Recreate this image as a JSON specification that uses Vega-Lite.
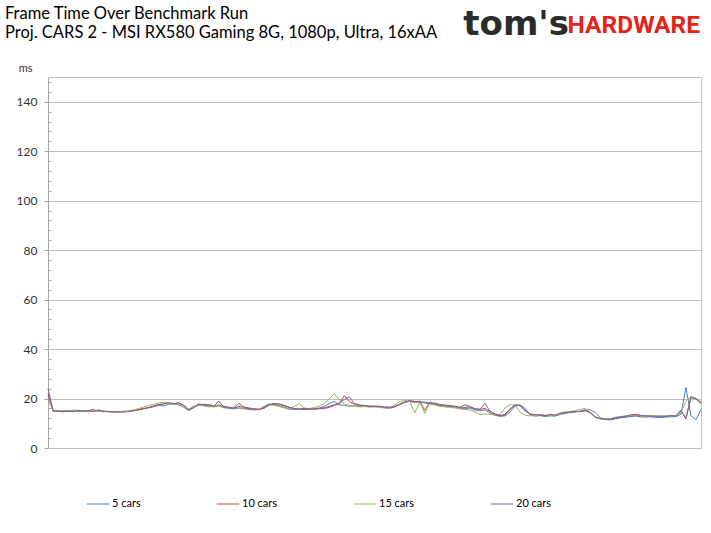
{
  "$schema": "https://vega.github.io/schema/vega-lite/v6.json",
  "width": 653,
  "height": 371,
  "autosize": "none",
  "padding": {"left": 48, "top": 77, "right": 10, "bottom": 85},
  "background": "white",
  "config": {
    "view": {"stroke": "#BFBFBF"}
  },
  "layer": [
    {
      "data": {"values": [
        {"x":0,"5 cars":21,"10 cars":22,"15 cars":20,"20 cars":24},
        {"x":1,"5 cars":15.2,"10 cars":14.8,"15 cars":15.0,"20 cars":15.3},
        {"x":2,"5 cars":14.8,"10 cars":15.0,"15 cars":14.7,"20 cars":14.9},
        {"x":3,"5 cars":15.0,"10 cars":14.6,"15 cars":15.3,"20 cars":14.8},
        {"x":4,"5 cars":14.7,"10 cars":15.1,"15 cars":14.9,"20 cars":15.0},
        {"x":5,"5 cars":15.1,"10 cars":14.8,"15 cars":15.4,"20 cars":14.7},
        {"x":6,"5 cars":14.8,"10 cars":15.3,"15 cars":14.9,"20 cars":15.1},
        {"x":7,"5 cars":15.0,"10 cars":14.7,"15 cars":15.1,"20 cars":14.9},
        {"x":8,"5 cars":14.6,"10 cars":15.0,"15 cars":14.8,"20 cars":15.2},
        {"x":9,"5 cars":14.9,"10 cars":15.6,"15 cars":14.7,"20 cars":14.8},
        {"x":10,"5 cars":15.3,"10 cars":14.8,"15 cars":15.0,"20 cars":15.4},
        {"x":11,"5 cars":14.7,"10 cars":15.0,"15 cars":14.6,"20 cars":14.9},
        {"x":12,"5 cars":14.8,"10 cars":14.6,"15 cars":14.9,"20 cars":14.7},
        {"x":13,"5 cars":14.5,"10 cars":14.8,"15 cars":14.4,"20 cars":14.6},
        {"x":14,"5 cars":14.7,"10 cars":14.5,"15 cars":14.8,"20 cars":14.6},
        {"x":15,"5 cars":14.6,"10 cars":14.9,"15 cars":14.7,"20 cars":14.5},
        {"x":16,"5 cars":14.9,"10 cars":14.7,"15 cars":15.0,"20 cars":14.8},
        {"x":17,"5 cars":15.2,"10 cars":15.0,"15 cars":15.4,"20 cars":15.1},
        {"x":18,"5 cars":15.4,"10 cars":15.6,"15 cars":15.9,"20 cars":15.3},
        {"x":19,"5 cars":15.8,"10 cars":16.0,"15 cars":16.6,"20 cars":15.9},
        {"x":20,"5 cars":16.4,"10 cars":16.2,"15 cars":17.2,"20 cars":16.3},
        {"x":21,"5 cars":16.8,"10 cars":17.0,"15 cars":17.6,"20 cars":16.7},
        {"x":22,"5 cars":17.2,"10 cars":17.6,"15 cars":18.2,"20 cars":17.4},
        {"x":23,"5 cars":17.0,"10 cars":17.8,"15 cars":18.5,"20 cars":17.8},
        {"x":24,"5 cars":17.6,"10 cars":18.2,"15 cars":18.0,"20 cars":18.4},
        {"x":25,"5 cars":17.9,"10 cars":18.0,"15 cars":17.6,"20 cars":17.8},
        {"x":26,"5 cars":17.4,"10 cars":18.1,"15 cars":17.8,"20 cars":18.3},
        {"x":27,"5 cars":16.6,"10 cars":17.2,"15 cars":16.5,"20 cars":17.4},
        {"x":28,"5 cars":15.1,"10 cars":15.6,"15 cars":15.3,"20 cars":15.4},
        {"x":29,"5 cars":16.2,"10 cars":16.8,"15 cars":16.6,"20 cars":16.4},
        {"x":30,"5 cars":17.6,"10 cars":17.4,"15 cars":17.2,"20 cars":17.8},
        {"x":31,"5 cars":17.3,"10 cars":17.7,"15 cars":17.0,"20 cars":17.5},
        {"x":32,"5 cars":17.0,"10 cars":17.5,"15 cars":16.6,"20 cars":17.4},
        {"x":33,"5 cars":16.6,"10 cars":17.0,"15 cars":16.9,"20 cars":16.8},
        {"x":34,"5 cars":17.2,"10 cars":17.4,"15 cars":17.0,"20 cars":19.0},
        {"x":35,"5 cars":16.4,"10 cars":16.8,"15 cars":16.2,"20 cars":16.6},
        {"x":36,"5 cars":16.0,"10 cars":16.5,"15 cars":16.2,"20 cars":16.4},
        {"x":37,"5 cars":15.8,"10 cars":16.3,"15 cars":16.5,"20 cars":16.1},
        {"x":38,"5 cars":16.2,"10 cars":18.0,"15 cars":16.0,"20 cars":16.8},
        {"x":39,"5 cars":16.0,"10 cars":16.6,"15 cars":15.8,"20 cars":16.4},
        {"x":40,"5 cars":15.6,"10 cars":16.2,"15 cars":16.0,"20 cars":15.9},
        {"x":41,"5 cars":15.4,"10 cars":15.9,"15 cars":15.8,"20 cars":15.7},
        {"x":42,"5 cars":15.6,"10 cars":15.7,"15 cars":15.5,"20 cars":15.5},
        {"x":43,"5 cars":16.8,"10 cars":16.0,"15 cars":16.7,"20 cars":16.3},
        {"x":44,"5 cars":17.8,"10 cars":17.3,"15 cars":17.6,"20 cars":17.4},
        {"x":45,"5 cars":17.6,"10 cars":17.9,"15 cars":17.2,"20 cars":18.0},
        {"x":46,"5 cars":17.0,"10 cars":17.8,"15 cars":16.8,"20 cars":17.6},
        {"x":47,"5 cars":16.5,"10 cars":17.3,"15 cars":16.2,"20 cars":17.0},
        {"x":48,"5 cars":15.8,"10 cars":16.5,"15 cars":15.6,"20 cars":16.4},
        {"x":49,"5 cars":15.6,"10 cars":16.0,"15 cars":16.8,"20 cars":15.9},
        {"x":50,"5 cars":15.8,"10 cars":15.7,"15 cars":18.0,"20 cars":15.6},
        {"x":51,"5 cars":15.5,"10 cars":15.9,"15 cars":16.2,"20 cars":16.0},
        {"x":52,"5 cars":15.6,"10 cars":15.6,"15 cars":15.9,"20 cars":15.8},
        {"x":53,"5 cars":15.9,"10 cars":15.7,"15 cars":16.4,"20 cars":15.8},
        {"x":54,"5 cars":16.2,"10 cars":15.8,"15 cars":17.0,"20 cars":16.0},
        {"x":55,"5 cars":16.8,"10 cars":16.0,"15 cars":18.0,"20 cars":16.3},
        {"x":56,"5 cars":18.0,"10 cars":16.4,"15 cars":19.8,"20 cars":16.8},
        {"x":57,"5 cars":18.8,"10 cars":17.2,"15 cars":22.0,"20 cars":17.6},
        {"x":58,"5 cars":17.5,"10 cars":17.8,"15 cars":19.5,"20 cars":18.2},
        {"x":59,"5 cars":17.2,"10 cars":21.2,"15 cars":17.8,"20 cars":19.6},
        {"x":60,"5 cars":16.9,"10 cars":18.8,"15 cars":17.2,"20 cars":20.6},
        {"x":61,"5 cars":17.0,"10 cars":17.6,"15 cars":16.8,"20 cars":18.0},
        {"x":62,"5 cars":16.8,"10 cars":17.2,"15 cars":16.6,"20 cars":17.4},
        {"x":63,"5 cars":17.1,"10 cars":16.9,"15 cars":16.8,"20 cars":17.2},
        {"x":64,"5 cars":16.7,"10 cars":17.0,"15 cars":16.5,"20 cars":16.8},
        {"x":65,"5 cars":16.9,"10 cars":16.7,"15 cars":16.6,"20 cars":17.0},
        {"x":66,"5 cars":16.5,"10 cars":16.9,"15 cars":16.4,"20 cars":16.8},
        {"x":67,"5 cars":16.3,"10 cars":16.6,"15 cars":16.2,"20 cars":16.5},
        {"x":68,"5 cars":16.0,"10 cars":16.5,"15 cars":16.1,"20 cars":16.4},
        {"x":69,"5 cars":16.6,"10 cars":16.8,"15 cars":17.4,"20 cars":16.6},
        {"x":70,"5 cars":17.8,"10 cars":17.6,"15 cars":18.8,"20 cars":17.5},
        {"x":71,"5 cars":18.6,"10 cars":18.4,"15 cars":19.2,"20 cars":18.6},
        {"x":72,"5 cars":18.8,"10 cars":19.0,"15 cars":18.9,"20 cars":19.2},
        {"x":73,"5 cars":18.6,"10 cars":18.5,"15 cars":14.2,"20 cars":18.9},
        {"x":74,"5 cars":18.8,"10 cars":19.0,"15 cars":18.6,"20 cars":18.4},
        {"x":75,"5 cars":18.2,"10 cars":15.2,"15 cars":14.0,"20 cars":18.6},
        {"x":76,"5 cars":17.8,"10 cars":18.6,"15 cars":18.2,"20 cars":18.0},
        {"x":77,"5 cars":17.6,"10 cars":17.8,"15 cars":17.4,"20 cars":18.2},
        {"x":78,"5 cars":17.2,"10 cars":17.5,"15 cars":16.8,"20 cars":17.6},
        {"x":79,"5 cars":16.9,"10 cars":17.2,"15 cars":16.6,"20 cars":17.4},
        {"x":80,"5 cars":16.7,"10 cars":17.0,"15 cars":16.4,"20 cars":17.1},
        {"x":81,"5 cars":16.5,"10 cars":16.8,"15 cars":16.2,"20 cars":16.9},
        {"x":82,"5 cars":16.0,"10 cars":16.4,"15 cars":15.8,"20 cars":16.5},
        {"x":83,"5 cars":15.9,"10 cars":17.5,"15 cars":15.6,"20 cars":16.4},
        {"x":84,"5 cars":16.2,"10 cars":16.8,"15 cars":15.4,"20 cars":16.6},
        {"x":85,"5 cars":15.4,"10 cars":15.9,"15 cars":14.6,"20 cars":15.8},
        {"x":86,"5 cars":15.0,"10 cars":15.6,"15 cars":13.5,"20 cars":15.7},
        {"x":87,"5 cars":15.4,"10 cars":16.0,"15 cars":13.8,"20 cars":18.0},
        {"x":88,"5 cars":14.2,"10 cars":14.8,"15 cars":13.6,"20 cars":14.9},
        {"x":89,"5 cars":13.2,"10 cars":13.6,"15 cars":13.4,"20 cars":13.8},
        {"x":90,"5 cars":12.8,"10 cars":13.0,"15 cars":13.6,"20 cars":13.2},
        {"x":91,"5 cars":13.0,"10 cars":13.4,"15 cars":16.2,"20 cars":13.6},
        {"x":92,"5 cars":14.6,"10 cars":15.6,"15 cars":17.6,"20 cars":15.8},
        {"x":93,"5 cars":17.0,"10 cars":17.4,"15 cars":17.2,"20 cars":17.6},
        {"x":94,"5 cars":17.4,"10 cars":17.2,"15 cars":14.4,"20 cars":17.0},
        {"x":95,"5 cars":16.0,"10 cars":15.2,"15 cars":13.2,"20 cars":15.0},
        {"x":96,"5 cars":13.4,"10 cars":13.6,"15 cars":13.0,"20 cars":13.8},
        {"x":97,"5 cars":12.9,"10 cars":13.3,"15 cars":13.1,"20 cars":13.4},
        {"x":98,"5 cars":13.1,"10 cars":13.5,"15 cars":13.2,"20 cars":13.3},
        {"x":99,"5 cars":12.7,"10 cars":13.2,"15 cars":13.0,"20 cars":13.1},
        {"x":100,"5 cars":13.0,"10 cars":13.4,"15 cars":13.3,"20 cars":13.6},
        {"x":101,"5 cars":12.9,"10 cars":13.3,"15 cars":13.1,"20 cars":13.2},
        {"x":102,"5 cars":13.6,"10 cars":14.0,"15 cars":14.2,"20 cars":14.1},
        {"x":103,"5 cars":14.0,"10 cars":14.4,"15 cars":14.6,"20 cars":14.2},
        {"x":104,"5 cars":14.4,"10 cars":14.6,"15 cars":14.8,"20 cars":14.5},
        {"x":105,"5 cars":14.6,"10 cars":14.8,"15 cars":15.2,"20 cars":14.7},
        {"x":106,"5 cars":14.9,"10 cars":14.7,"15 cars":15.6,"20 cars":14.8},
        {"x":107,"5 cars":15.5,"10 cars":15.0,"15 cars":16.0,"20 cars":15.2},
        {"x":108,"5 cars":15.4,"10 cars":14.2,"15 cars":14.0,"20 cars":14.4},
        {"x":109,"5 cars":14.2,"10 cars":12.4,"15 cars":12.2,"20 cars":12.6},
        {"x":110,"5 cars":12.2,"10 cars":11.8,"15 cars":11.7,"20 cars":11.9},
        {"x":111,"5 cars":11.5,"10 cars":11.7,"15 cars":11.8,"20 cars":11.6},
        {"x":112,"5 cars":11.4,"10 cars":11.6,"15 cars":11.9,"20 cars":11.7},
        {"x":113,"5 cars":11.8,"10 cars":12.2,"15 cars":12.4,"20 cars":12.3},
        {"x":114,"5 cars":12.2,"10 cars":12.5,"15 cars":12.7,"20 cars":12.6},
        {"x":115,"5 cars":12.4,"10 cars":12.9,"15 cars":13.0,"20 cars":12.8},
        {"x":116,"5 cars":12.7,"10 cars":13.0,"15 cars":13.2,"20 cars":13.4},
        {"x":117,"5 cars":12.9,"10 cars":13.3,"15 cars":13.5,"20 cars":13.6},
        {"x":118,"5 cars":12.6,"10 cars":13.0,"15 cars":13.1,"20 cars":13.2},
        {"x":119,"5 cars":12.5,"10 cars":12.9,"15 cars":12.8,"20 cars":13.0},
        {"x":120,"5 cars":12.6,"10 cars":13.0,"15 cars":13.1,"20 cars":12.9},
        {"x":121,"5 cars":12.4,"10 cars":12.9,"15 cars":13.0,"20 cars":12.8},
        {"x":122,"5 cars":12.3,"10 cars":12.8,"15 cars":12.7,"20 cars":12.9},
        {"x":123,"5 cars":12.5,"10 cars":12.9,"15 cars":13.0,"20 cars":12.8},
        {"x":124,"5 cars":12.6,"10 cars":13.0,"15 cars":12.9,"20 cars":13.1},
        {"x":125,"5 cars":12.7,"10 cars":13.1,"15 cars":13.2,"20 cars":13.0},
        {"x":126,"5 cars":13.6,"10 cars":15.0,"15 cars":14.2,"20 cars":15.2},
        {"x":127,"5 cars":24.5,"10 cars":12.0,"15 cars":19.0,"20 cars":11.8},
        {"x":128,"5 cars":13.0,"10 cars":20.6,"15 cars":20.8,"20 cars":20.4},
        {"x":129,"5 cars":11.4,"10 cars":20.0,"15 cars":20.2,"20 cars":19.8},
        {"x":130,"5 cars":15.6,"10 cars":18.2,"15 cars":18.6,"20 cars":18.0}
      ]},
      "transform": [{"fold": ["5 cars", "10 cars", "15 cars", "20 cars"], "as": ["series", "ms"]}],
      "mark": {"type": "line", "strokeWidth": 1, "interpolate": "linear"},
      "encoding": {
        "x": {
          "field": "x",
          "type": "quantitative",
          "scale": {"domain": [0, 130], "nice": false, "zero": false},
          "axis": null
        },
        "y": {
          "field": "ms",
          "type": "quantitative",
          "scale": {"domain": [0, 150], "nice": false},
          "axis": {
            "title": "ms",
            "titleAngle": 0,
            "titleAlign": "right",
            "titleBaseline": "alphabetic",
            "titleX": -16,
            "titleY": -6,
            "titleFont": "Lato",
            "titleFontSize": 11,
            "titleFontWeight": "normal",
            "titleColor": "#333333",
            "values": [0,4,8,12,16,20,24,28,32,36,40,44,48,52,56,60,64,68,72,76,80,84,88,92,96,100,104,108,112,116,120,124,128,132,136,140,144,148],
            "tickCount": 40,
            "labelExpr": "datum.value % 20 === 0 ? datum.label : ''",
            "labelOverlap": false,
            "labelFont": "Lato",
            "labelFontSize": 12,
            "labelColor": "#333333",
            "labelPadding": 7,
            "tickSize": {"condition": {"test": "datum.value % 20 === 0", "value": 4}, "value": -3},
            "tickColor": "#A6A6A6",
            "domainColor": "#A6A6A6",
            "grid": true,
            "gridColor": "#BFBFBF",
            "gridOpacity": {"condition": {"test": "datum.value % 20 === 0", "value": 1}, "value": 0}
          }
        },
        "color": {
          "field": "series",
          "type": "nominal",
          "sort": ["5 cars", "10 cars", "15 cars", "20 cars"],
          "scale": {
            "domain": ["5 cars", "10 cars", "15 cars", "20 cars"],
            "range": ["#4A7EBB", "#BE4B48", "#98B954", "#7D60A0"]
          },
          "legend": {
            "orient": "none",
            "legendX": 38,
            "legendY": 415,
            "direction": "horizontal",
            "columns": 4,
            "columnPadding": 73,
            "title": null,
            "symbolType": "stroke",
            "symbolSize": 500,
            "symbolStrokeWidth": 1,
            "labelFont": "Lato",
            "labelFontSize": 11,
            "labelColor": "#000000",
            "labelOffset": 2
          }
        }
      }
    },
    {
      "data": {"values": [{"line": "Frame Time Over Benchmark Run", "row": 0}, {"line": "Proj. CARS 2 - MSI RX580 Gaming 8G, 1080p, Ultra, 16xAA", "row": 1}]},
      "mark": {"type": "text", "align": "left", "baseline": "alphabetic", "dx": -43, "font": "Lato", "fontSize": 16.5, "color": "#000000"},
      "encoding": {
        "x": {"datum": 0, "type": "quantitative"},
        "y": {"datum": 150, "type": "quantitative"},
        "yOffset": {"field": "row", "type": "quantitative", "scale": {"domain": [0, 1], "range": [-58, -39]}, "legend": null},
        "text": {"field": "line"}
      }
    },
    {
      "data": {"values": [{"word": "HARDWARE"}]},
      "mark": {"type": "text", "align": "right", "baseline": "alphabetic", "dx": -1, "dy": -44, "font": "Roboto", "fontSize": 24.5, "fontWeight": "bold", "color": "#E2231A"},
      "encoding": {
        "x": {"datum": 130, "type": "quantitative"},
        "y": {"datum": 150, "type": "quantitative"},
        "text": {"field": "word"}
      }
    },
    {
      "data": {"values": [{"word": "tom's"}]},
      "mark": {"type": "text", "align": "right", "baseline": "alphabetic", "dx": -132, "dy": -42, "font": "DejaVu Sans", "fontSize": 34, "fontWeight": "bold", "color": "#2B2B2B"},
      "encoding": {
        "x": {"datum": 130, "type": "quantitative"},
        "y": {"datum": 150, "type": "quantitative"},
        "text": {"field": "word"}
      }
    }
  ]
}
